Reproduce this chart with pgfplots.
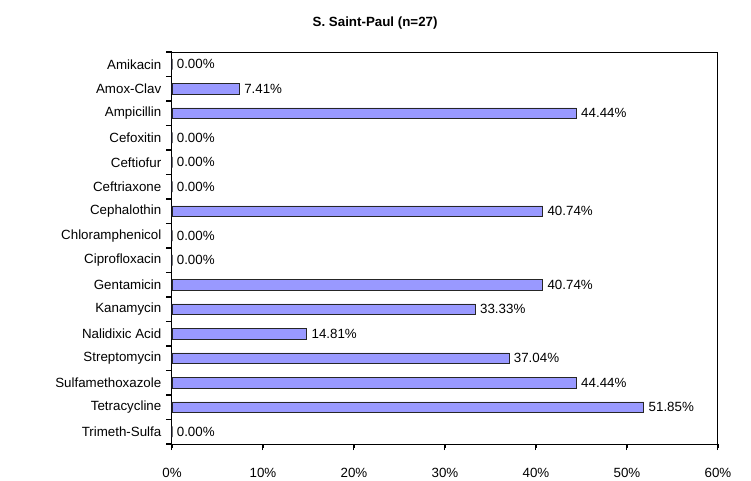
\documentclass[border=0pt]{standalone}
\usepackage{pgfplots}
\pgfplotsset{compat=1.18}
\usepackage{fontspec}
\setmainfont{Liberation Sans}
\definecolor{barfill}{HTML}{9999FF}
\begin{document}
\begin{tikzpicture}
\begin{axis}[
    scale only axis,
    width=409.5pt, height=294pt,
    xbar, bar width=8pt,
    xmin=0, xmax=60,
    ymin=-0.5, ymax=15.5,
    clip=false,
    axis line style={black, line width=0.75pt},
    xtick pos=bottom, ytick pos=left,
    tick align=outside,
    major tick length=4.5pt,
    xtick={0,10,20,30,40,50,60},
    xticklabels={0\%,10\%,20\%,30\%,40\%,50\%,60\%},
    x tick label style={yshift=-10pt},
    ytick={-0.5,0.5,...,15.5},
    yticklabels={},
    extra y ticks={0,1,2,3,4,5,6,7,8,9,10,11,12,13,14,15},
    extra y tick labels={Trimeth-Sulfa,Tetracycline,Sulfamethoxazole,Streptomycin,Nalidixic Acid,Kanamycin,Gentamicin,Ciprofloxacin,Chloramphenicol,Cephalothin,Ceftriaxone,Ceftiofur,Cefoxitin,Ampicillin,Amox-Clav,Amikacin},
    extra y tick style={ytick style={draw=none}},
    tick style={black, line width=0.75pt},
    title={S. Saint-Paul (n=27)},
    title style={at={(0.372,1)}, anchor=center, yshift=16pt, font=\bfseries},
    nodes near coords={\pgfmathprintnumber[fixed,zerofill,precision=2,assume math mode=true]{\pgfplotspointmeta}\%},
    nodes near coords align={horizontal},
]
\addplot[fill=barfill, draw=black!85, line width=0.6pt] coordinates {
    (0,15) (7.41,14) (44.44,13) (0,12) (0,11) (0,10) (40.74,9) (0,8)
    (0,7) (40.74,6) (33.33,5) (14.81,4) (37.04,3) (44.44,2) (51.85,1) (0,0)
};
% tick marks on the outside of the frame
\pgfplotsinvokeforeach{0,10,20,30,40,50,60}{
    \draw[black, line width=1pt] (axis cs:#1,-0.5) -- (axis cs:#1,-0.66);
}
\pgfplotsinvokeforeach{-0.5,0.5,1.5,2.5,3.5,4.5,5.5,6.5,7.5,8.5,9.5,10.5,11.5,12.5,13.5,14.5,15.5}{
    \draw[black, line width=1pt] (axis cs:0,#1) -- (axis cs:-0.65,#1);
}
\end{axis}
\pgfresetboundingbox
\path (-129pt,-27pt) rectangle (434.25pt,333pt);
\end{tikzpicture}
\end{document}
